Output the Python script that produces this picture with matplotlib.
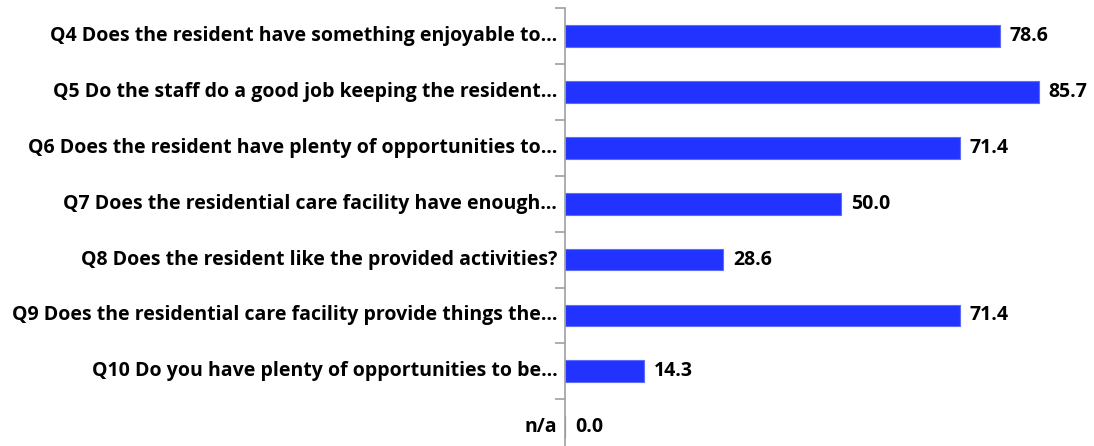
import numpy as np
import matplotlib.pyplot as plt

questions = [
    'Q4 Does the resident have something enjoyable to…',
    'Q5 Do the staff do a good job keeping the resident…',
    'Q6 Does the resident have plenty of opportunities to…',
    'Q7 Does the residential care facility have enough…',
    'Q8 Does the resident like the provided activities?',
    'Q9 Does the residential care facility provide things the…',
    'Q10 Do you have plenty of opportunities to be…',
    'n/a',
]
values = [78.6, 85.7, 71.4, 50.0, 28.6, 71.4, 14.3, 0.0]

plt.rcParams['font.family'] = ['Open Sans', 'DejaVu Sans']

fig = plt.figure(figsize=(10.94, 4.46), dpi=100)
W, H = 1094, 446
step = 55.9
top = 8
n = len(values)
# axes box in pixels; the last row runs past the bottom edge
ax = fig.add_axes([565 / W, (H - top - n * step) / H, 553 / W, n * step / H])

pos = np.arange(n)
ax.barh(pos, values, height=0.39, color='#2233ff', edgecolor='#5c6cff', linewidth=0.8)
ax.set_xlim(0, 100)
ax.set_ylim(n - 0.5, -0.5)

for p, v in zip(pos, values):
    ax.text(v + 1.8, p, f'{v:.1f}', va='center', ha='left',
            fontsize=14, fontweight='bold')

for p, q in zip(pos, questions):
    ax.text(-1.4, p, q, va='center', ha='right', fontsize=14,
            fontweight='bold', clip_on=False)

ax.set_yticks(np.arange(n + 1) - 0.5)
ax.set_yticklabels([])
ax.tick_params(axis='y', length=7, color='#a0a0a0', width=1.2)
ax.set_xticks([])
for s in ['top', 'right', 'bottom']:
    ax.spines[s].set_visible(False)
ax.spines['left'].set_color('#a0a0a0')
ax.spines['left'].set_linewidth(1.2)

fig.savefig('out.png', dpi=100)
